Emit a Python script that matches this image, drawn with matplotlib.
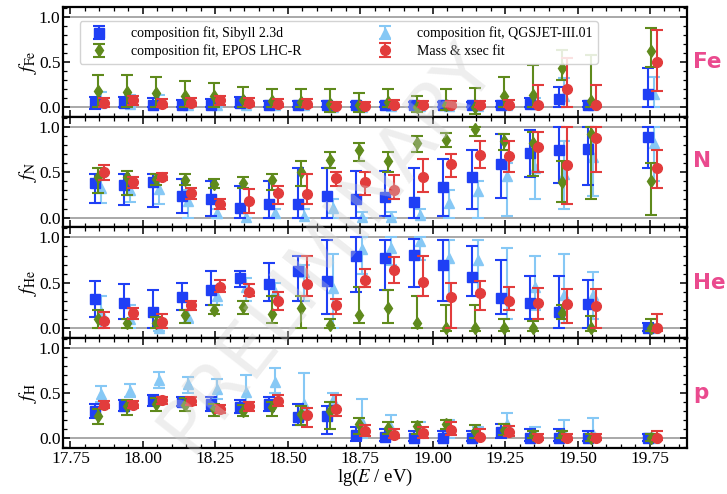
import numpy as np
import matplotlib
matplotlib.use("Agg")
import matplotlib.pyplot as plt
from matplotlib.ticker import MultipleLocator, FormatStrFormatter

# energy bins lg(E/eV)
lgE = [17.85, 17.95, 18.05, 18.15, 18.25, 18.35, 18.45, 18.55, 18.65, 18.75,
       18.85, 18.95, 19.05, 19.15, 19.25, 19.35, 19.45, 19.55, 19.76]

# ---- Fe ----
fe_sib    = [0.05, 0.05, 0.03, 0.02, 0.03, 0.05, 0.02, 0.02, 0.02, 0.02, 0.02, 0.02, 0.02, 0.02, 0.02, 0.04, 0.09, 0.02, 0.15]
fe_sib_lo = [-0.02, 0.0, 0.0, 0.0, 0.0, 0.0, 0.0, 0.0, 0.0, 0.0, 0.0, 0.0, 0.0, 0.0, 0.0, 0.0, 0.0, 0.0, 0.0]
fe_sib_hi = [0.11, 0.11, 0.10, 0.08, 0.09, 0.11, 0.07, 0.07, 0.07, 0.06, 0.06, 0.06, 0.06, 0.06, 0.07, 0.10, 0.22, 0.07, 0.43]
fe_epos    = [0.18, 0.17, 0.16, 0.13, 0.12, 0.08, 0.07, 0.06, 0.04, 0.02, 0.06, 0.0, 0.02, 0.0, 0.12, 0.14, 0.43, 0.07, 0.62]
fe_epos_lo = [0.0, 0.0, 0.0, 0.0, 0.0, 0.0, 0.0, 0.0, -0.05, -0.05, 0.0, -0.05, -0.03, -0.08, 0.0, 0.0, 0.30, 0.0, 0.45]
fe_epos_hi = [0.36, 0.36, 0.33, 0.29, 0.27, 0.22, 0.20, 0.20, 0.20, 0.16, 0.20, 0.12, 0.20, 0.21, 0.33, 0.47, 0.63, 0.58, 0.88]
fe_qgs    = [0.05, 0.04, 0.05, 0.02, 0.03, 0.03, 0.02, 0.02, 0.0, 0.0, 0.01, 0.01, 0.01, 0.01, 0.02, 0.04, 0.13, 0.02, 0.15]
fe_qgs_lo = [0.0, 0.0, 0.0, 0.0, 0.0, 0.0, 0.0, 0.0, 0.0, 0.0, 0.0, 0.0, 0.0, 0.0, 0.0, 0.0, 0.0, 0.0, 0.0]
fe_qgs_hi = [0.17, 0.14, 0.14, 0.08, 0.08, 0.07, 0.06, 0.06, 0.05, 0.04, 0.05, 0.05, 0.05, 0.05, 0.06, 0.10, 0.32, 0.07, 0.33]
fe_mx    = [0.05, 0.08, 0.04, 0.05, 0.08, 0.05, 0.04, 0.04, 0.01, 0.01, 0.03, 0.02, 0.02, 0.02, 0.02, 0.03, 0.20, 0.02, 0.50]
fe_mx_lo = [0.0, 0.03, 0.0, 0.01, 0.03, 0.01, 0.0, 0.0, 0.0, 0.0, 0.0, 0.0, 0.0, 0.0, 0.0, 0.0, 0.0, 0.0, 0.18]
fe_mx_hi = [0.10, 0.13, 0.09, 0.10, 0.13, 0.10, 0.09, 0.09, 0.06, 0.06, 0.08, 0.07, 0.07, 0.07, 0.08, 0.25, 0.55, 0.25, 0.85]

# ---- N ----
n_sib    = [0.38, 0.36, 0.39, 0.24, 0.21, 0.11, 0.15, 0.15, 0.24, 0.20, 0.23, 0.17, 0.34, 0.45, 0.59, 0.71, 0.75, 0.76, 0.89]
n_sib_lo = [0.16, 0.14, 0.12, 0.05, 0.02, 0.0, 0.0, 0.0, 0.0, 0.0, 0.02, 0.0, 0.02, 0.10, 0.22, 0.45, 0.38, 0.36, 0.55]
n_sib_hi = [0.48, 0.48, 0.48, 0.43, 0.40, 0.35, 0.40, 0.55, 0.55, 0.52, 0.52, 0.55, 0.65, 0.75, 0.92, 0.97, 1.0, 1.0, 1.0]
n_epos    = [0.45, 0.45, 0.43, 0.42, 0.37, 0.38, 0.42, 0.50, 0.64, 0.75, 0.62, 0.82, 0.86, 0.98, 0.85, 0.83, 0.39, 0.92, 0.40]
n_epos_lo = [0.27, 0.25, 0.36, 0.36, 0.33, 0.33, 0.30, 0.35, 0.55, 0.62, 0.50, 0.72, 0.78, 0.90, 0.75, 0.46, 0.17, 0.20, 0.03]
n_epos_hi = [0.55, 0.52, 0.48, 0.48, 0.43, 0.45, 0.48, 0.62, 0.72, 0.82, 0.72, 0.90, 0.93, 1.0, 0.92, 0.95, 0.62, 1.0, 0.60]
n_qgs    = [0.33, 0.31, 0.32, 0.18, 0.05, 0.01, 0.05, 0.02, 0.11, 0.01, 0.01, 0.03, 0.16, 0.29, 0.46, 0.55, 0.48, 0.67, 0.83]
n_qgs_lo = [0.16, 0.17, 0.15, 0.0, 0.0, 0.0, 0.0, 0.0, 0.0, 0.0, 0.0, 0.0, 0.0, 0.0, 0.02, 0.20, 0.10, 0.24, 0.40]
n_qgs_hi = [0.45, 0.45, 0.45, 0.30, 0.10, 0.05, 0.10, 0.10, 0.20, 0.06, 0.06, 0.10, 0.30, 0.40, 0.60, 0.75, 0.85, 0.90, 1.0]
n_mx    = [0.50, 0.39, 0.45, 0.27, 0.15, 0.18, 0.27, 0.26, 0.44, 0.39, 0.31, 0.45, 0.59, 0.69, 0.68, 0.78, 0.58, 0.88, 0.55]
n_mx_lo = [0.42, 0.33, 0.41, 0.21, 0.10, 0.05, 0.15, 0.15, 0.35, 0.25, 0.20, 0.28, 0.45, 0.55, 0.50, 0.50, 0.15, 0.50, 0.33]
n_mx_hi = [0.58, 0.45, 0.49, 0.33, 0.20, 0.32, 0.35, 0.48, 0.50, 0.50, 0.47, 0.65, 0.70, 0.85, 0.85, 0.95, 1.0, 1.0, 0.75]

# ---- He ----
he_sib    = [0.32, 0.28, 0.17, 0.34, 0.42, 0.55, 0.48, 0.63, 0.52, 0.80, 0.77, 0.81, 0.69, 0.56, 0.33, 0.27, 0.18, 0.26, 0.0]
he_sib_lo = [0.12, 0.10, 0.0, 0.20, 0.25, 0.45, 0.30, 0.30, 0.15, 0.40, 0.42, 0.45, 0.30, 0.35, 0.15, 0.10, 0.0, 0.0, -0.03]
he_sib_hi = [0.52, 0.48, 0.42, 0.50, 0.63, 0.63, 0.72, 0.80, 0.97, 1.0, 0.97, 0.98, 0.97, 0.90, 0.75, 0.57, 0.57, 0.53, 0.05]
he_epos    = [0.10, 0.05, 0.05, 0.14, 0.20, 0.23, 0.15, 0.22, 0.03, 0.14, 0.22, 0.05, 0.0, 0.0, 0.0, 0.0, 0.16, 0.0, 0.0]
he_epos_lo = [0.0, 0.0, 0.0, 0.05, 0.15, 0.15, 0.05, 0.0, 0.0, 0.05, 0.05, 0.0, -0.03, -0.03, -0.03, -0.03, 0.10, -0.03, -0.03]
he_epos_hi = [0.20, 0.10, 0.12, 0.20, 0.25, 0.30, 0.35, 0.35, 0.10, 0.45, 0.42, 0.35, 0.25, 0.25, 0.10, 0.08, 0.25, 0.13, 0.10]
he_qgs    = [0.17, 0.10, 0.0, 0.12, 0.35, 0.45, 0.40, 0.62, 0.44, 0.87, 0.88, 0.96, 0.77, 0.75, 0.35, 0.45, 0.36, 0.36, 0.0]
he_qgs_lo = [0.0, 0.0, -0.03, 0.05, 0.25, 0.30, 0.30, 0.30, 0.0, 0.60, 0.70, 0.75, 0.30, 0.35, 0.10, 0.20, 0.05, 0.10, -0.03]
he_qgs_hi = [0.35, 0.25, 0.05, 0.20, 0.45, 0.55, 0.50, 0.70, 0.82, 1.0, 1.0, 1.0, 0.97, 0.97, 0.88, 0.80, 0.82, 0.62, 0.03]
he_mx    = [0.08, 0.16, 0.07, 0.25, 0.45, 0.40, 0.30, 0.48, 0.25, 0.53, 0.64, 0.51, 0.34, 0.38, 0.30, 0.27, 0.26, 0.24, 0.0]
he_mx_lo = [0.0, 0.10, 0.0, 0.20, 0.40, 0.35, 0.20, 0.35, 0.15, 0.45, 0.50, 0.35, 0.0, 0.20, 0.20, 0.10, 0.05, 0.0, -0.03]
he_mx_hi = [0.18, 0.22, 0.15, 0.30, 0.53, 0.48, 0.40, 0.80, 0.32, 0.65, 0.78, 0.80, 0.50, 0.52, 0.45, 0.44, 0.43, 0.43, 0.15]

# ---- p ----
p_sib    = [0.30, 0.36, 0.42, 0.40, 0.38, 0.34, 0.38, 0.23, 0.24, 0.03, 0.01, 0.0, 0.0, 0.0, 0.07, 0.0, 0.0, 0.0, 0.0]
p_sib_lo = [0.22, 0.30, 0.35, 0.35, 0.30, 0.28, 0.30, 0.15, 0.05, -0.03, -0.03, -0.03, -0.03, -0.03, 0.0, -0.03, -0.03, -0.03, -0.03]
p_sib_hi = [0.38, 0.42, 0.48, 0.46, 0.46, 0.42, 0.45, 0.38, 0.35, 0.12, 0.10, 0.08, 0.08, 0.08, 0.16, 0.10, 0.10, 0.08, 0.05]
p_epos    = [0.25, 0.35, 0.38, 0.37, 0.32, 0.30, 0.34, 0.27, 0.30, 0.16, 0.11, 0.13, 0.16, 0.08, 0.09, 0.03, 0.03, 0.0, 0.0]
p_epos_lo = [0.16, 0.26, 0.30, 0.30, 0.25, 0.25, 0.25, 0.15, 0.10, 0.05, 0.05, 0.05, 0.10, 0.0, 0.03, 0.0, 0.0, -0.03, -0.03]
p_epos_hi = [0.32, 0.42, 0.44, 0.44, 0.38, 0.37, 0.40, 0.35, 0.40, 0.22, 0.18, 0.18, 0.20, 0.15, 0.16, 0.08, 0.08, 0.05, 0.05]
p_qgs    = [0.49, 0.52, 0.64, 0.60, 0.54, 0.51, 0.62, 0.38, 0.42, 0.18, 0.11, 0.08, 0.12, 0.03, 0.16, 0.03, 0.05, 0.05, 0.0]
p_qgs_lo = [0.40, 0.45, 0.55, 0.50, 0.43, 0.40, 0.50, 0.20, 0.30, 0.0, 0.0, 0.0, 0.0, 0.0, 0.05, 0.0, 0.0, 0.0, -0.02]
p_qgs_hi = [0.58, 0.60, 0.73, 0.68, 0.65, 0.70, 0.78, 0.72, 0.50, 0.43, 0.26, 0.18, 0.20, 0.12, 0.28, 0.12, 0.20, 0.22, 0.03]
p_mx    = [0.37, 0.37, 0.42, 0.41, 0.32, 0.35, 0.41, 0.26, 0.32, 0.08, 0.03, 0.06, 0.09, 0.01, 0.07, 0.0, 0.0, 0.0, 0.0]
p_mx_lo = [0.33, 0.33, 0.38, 0.37, 0.28, 0.30, 0.35, 0.12, 0.25, 0.02, 0.0, 0.0, 0.03, 0.0, 0.02, -0.02, -0.02, -0.02, -0.02]
p_mx_hi = [0.41, 0.41, 0.46, 0.45, 0.37, 0.40, 0.48, 0.33, 0.48, 0.15, 0.10, 0.12, 0.18, 0.10, 0.13, 0.05, 0.05, 0.05, 0.08]

panel_names = ["Fe", "N", "He", "p"]
ylabels = [r"$f_{\mathrm{Fe}}$", r"$f_{\mathrm{N}}$", r"$f_{\mathrm{He}}$", r"$f_{\mathrm{H}}$"]
label_y = [0.5, 0.6, 0.5, 0.5]

panels = [
    [(fe_sib, fe_sib_lo, fe_sib_hi), (fe_epos, fe_epos_lo, fe_epos_hi),
     (fe_qgs, fe_qgs_lo, fe_qgs_hi), (fe_mx, fe_mx_lo, fe_mx_hi)],
    [(n_sib, n_sib_lo, n_sib_hi), (n_epos, n_epos_lo, n_epos_hi),
     (n_qgs, n_qgs_lo, n_qgs_hi), (n_mx, n_mx_lo, n_mx_hi)],
    [(he_sib, he_sib_lo, he_sib_hi), (he_epos, he_epos_lo, he_epos_hi),
     (he_qgs, he_qgs_lo, he_qgs_hi), (he_mx, he_mx_lo, he_mx_hi)],
    [(p_sib, p_sib_lo, p_sib_hi), (p_epos, p_epos_lo, p_epos_hi),
     (p_qgs, p_qgs_lo, p_qgs_hi), (p_mx, p_mx_lo, p_mx_hi)],
]

series_labels = ["composition fit, Sibyll 2.3d", "composition fit, EPOS LHC-R",
                 "composition fit, QGSJET-III.01", "Mass & xsec fit"]
colors  = ["#1f3ff5", "#5f8a1c", "#86c8f5", "#e23c3c"]
markers = ["s", "d", "^", "o"]
msizes  = [6.5, 6.5, 7, 7]
offsets = [-0.015, -0.005, 0.005, 0.015]
zorders = [3, 4, 2, 5]

plt.rcParams["font.family"] = ["Liberation Serif", "DejaVu Serif"]
plt.rcParams["mathtext.fontset"] = "stix"

fig, axes = plt.subplots(4, 1, sharex=True, figsize=(7.27, 4.94), dpi=100)
fig.subplots_adjust(left=0.087, right=0.945, top=0.986, bottom=0.093, hspace=0)

x = np.array(lgE)
handles = []
for i, ax in enumerate(axes):
    ax.axhline(0.0, color="#a8a8a8", lw=1.4, zorder=1)
    ax.axhline(1.0, color="#a8a8a8", lw=1.4, zorder=1)
    for j, (val, lo, hi) in enumerate(panels[i]):
        v = np.array(val)
        yerr = [v - np.array(lo), np.array(hi) - v]
        h = ax.errorbar(x + offsets[j], v, yerr=yerr, fmt=markers[j], color=colors[j],
                        mec=colors[j], ms=msizes[j], elinewidth=1.5, capsize=4.5,
                        capthick=1.5, label=series_labels[j], zorder=zorders[j])
        if i == 0:
            handles.append(h)
    ax.set_ylim(-0.11, 1.11)
    ax.set_xlim(17.725, 19.878)
    ax.set_ylabel(ylabels[i], fontsize=14, labelpad=0)
    ax.yaxis.set_major_locator(MultipleLocator(0.5))
    ax.yaxis.set_minor_locator(MultipleLocator(0.1))
    ax.xaxis.set_major_locator(MultipleLocator(0.25))
    ax.xaxis.set_minor_locator(MultipleLocator(0.05))
    ax.tick_params(which="both", direction="in", top=True, right=True, labelsize=12.5)
    ax.tick_params(which="major", length=5, width=1.1, pad=2)
    ax.tick_params(which="minor", length=3, width=0.9)
    for s in ax.spines.values():
        s.set_linewidth(1.6)
    ax.text(1.01, label_y[i], panel_names[i], transform=ax.transAxes,
            fontsize=15.5, fontweight="bold", color="#ea4a8e", va="center", ha="left",
            family="DejaVu Sans", clip_on=False)

axes[-1].xaxis.set_major_formatter(FormatStrFormatter("%.2f"))
axes[-1].set_xlabel(r"lg($E$ / eV)", fontsize=13.5, labelpad=0)

leg = axes[0].legend(handles=handles, loc="upper left", bbox_to_anchor=(0.015, 0.935),
                     ncol=2, fontsize=10, columnspacing=5.0, handletextpad=1.3,
                     frameon=True, fancybox=True, framealpha=0.85, borderpad=0.4,
                     labelspacing=0.3)
leg.get_frame().set_edgecolor("#cccccc")
leg.set_zorder(10)

# watermark
fig.text(0.45, 0.5, "PRELIMINARY", fontsize=54, rotation=52, color="#d0d0d0",
         alpha=0.35, ha="center", va="center", family="DejaVu Sans", zorder=20)

fig.savefig("out.png", dpi=100)
